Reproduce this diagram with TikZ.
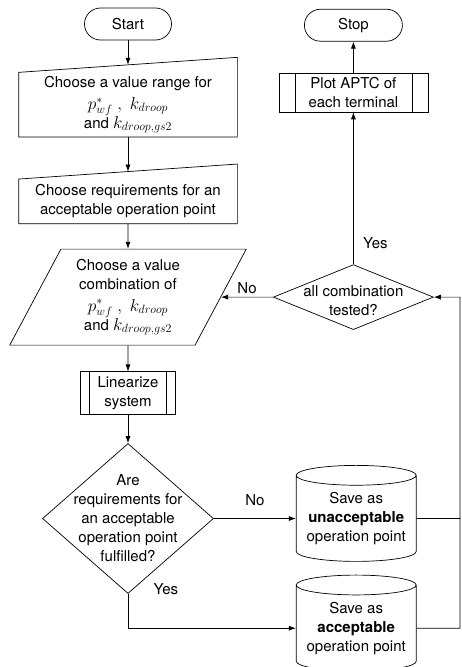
\documentclass[tikz,border=0pt]{standalone}
\usepackage{fontspec}
\setmainfont{TeX Gyre Heros}
\usetikzlibrary{arrows.meta, shapes.geometric, positioning}

\newcommand{\mvar}[1]{{\fontsize{17.5}{19}\selectfont$#1$}}

\begin{document}
\begin{tikzpicture}[->,>={Latex[length=7pt,width=5pt]},x=1pt,y=1pt,line width=0.7pt,
  font=\fontsize{15}{19}\selectfont,
  terminal/.style={rectangle,rounded corners=16pt,draw,minimum height=32pt,inner sep=0pt},
  manual/.style={rectangle,minimum width=218pt,align=center,inner sep=0pt},
  io/.style={trapezium,trapezium left angle=62.5,trapezium right angle=117.5,
    trapezium stretches=true,draw,minimum width=237pt,minimum height=96pt,align=center,inner sep=0pt},
  subproc/.style={rectangle,draw,minimum height=43pt,align=center,
    path picture={\draw[-] ([xshift=#1]path picture bounding box.north west) -- ([xshift=#1]path picture bounding box.south west)
      ([xshift=-#1]path picture bounding box.north east) -- ([xshift=-#1]path picture bounding box.south east);}},
  subproc/.default=9pt,
  decision/.style={diamond,draw,inner sep=0pt},
  store/.style={cylinder,shape border rotate=90,draw,aspect=0.2,minimum width=120pt,
    minimum height=96pt,inner sep=0pt,align=center},
  every label/.style={align=center}]
  \useasboundingbox (0,0) rectangle (461,-667);

  \node[terminal, minimum width=87pt] (start) at (128,-24) {Start};
  \node[manual, minimum height=64pt] (range) [below=32pt of start]
    {Choose a value range for\\[3pt]\mvar{p^*_{wf}\ ,\ k_{droop}}\\and \mvar{k_{droop,gs2}}};
  \node[manual, minimum height=44pt] (req) [below=42pt of range]
    {Choose requirements for an\\acceptable operation point};
  \node[io] (combo) [below=25pt of req]
    {Choose a value\\combination of\\[3pt]\mvar{p^*_{wf}\ ,\ k_{droop}}\\and \mvar{k_{droop,gs2}}};
  \node[subproc, minimum width=95pt] (lin) [below=26pt of combo] {Linearize\\system};
  \node[decision, minimum width=171pt, minimum height=150pt,
    label=center:{Are\\requirements for\\an acceptable\\operation point\\fulfilled?}] (check) [below=28pt of lin] {};
  \node[store] (unacc) [right=82pt of check] {Save as\\\textbf{unacceptable}\\operation point};
  \node[store] (acc) [below=13pt of unacc] {Save as\\\textbf{acceptable}\\operation point};
  \node[decision, minimum width=160pt, minimum height=65pt,
    label={[yshift=-4pt]center:all combination\\tested?}] (done) [right=52pt of combo] {};
  \node[subproc=16pt, minimum width=149pt, minimum height=39pt] (plot) [above=152pt of done]
    {Plot APTC of\\each terminal};
  \node[terminal, minimum width=98pt] (stop) [above=31pt of plot] {Stop};
  \coordinate (back) at (460,0);

  % manual input outlines
  \draw[-] (range.south west) -- (range.south east) -- ([yshift=15pt]range.north east)
    -- coordinate (rangetop) (range.north west) -- cycle;
  \draw[-] (req.south west) -- (req.south east) -- ([yshift=15pt]req.north east)
    -- coordinate (reqtop) (req.north west) -- cycle;

  \draw (start) -- (rangetop);
  \draw (range) -- (reqtop);
  \draw (req) -- (combo);
  \draw (combo) -- (lin);
  \draw (lin) -- (check);
  \draw (check) -- node[above=9pt]{No} (unacc);
  \draw (check.south) node[anchor=west, xshift=22pt, yshift=5pt]{Yes} |- (acc);
  \draw[-] (unacc) -- (unacc -| back);
  \draw (acc) -- (acc -| back) |- (done);
  \draw (done) -- node[above]{No} (combo);
  \draw (done) -- node[pos=0.14, right=6pt]{Yes} (plot);
  \draw (plot) -- (stop);
\end{tikzpicture}
\end{document}
